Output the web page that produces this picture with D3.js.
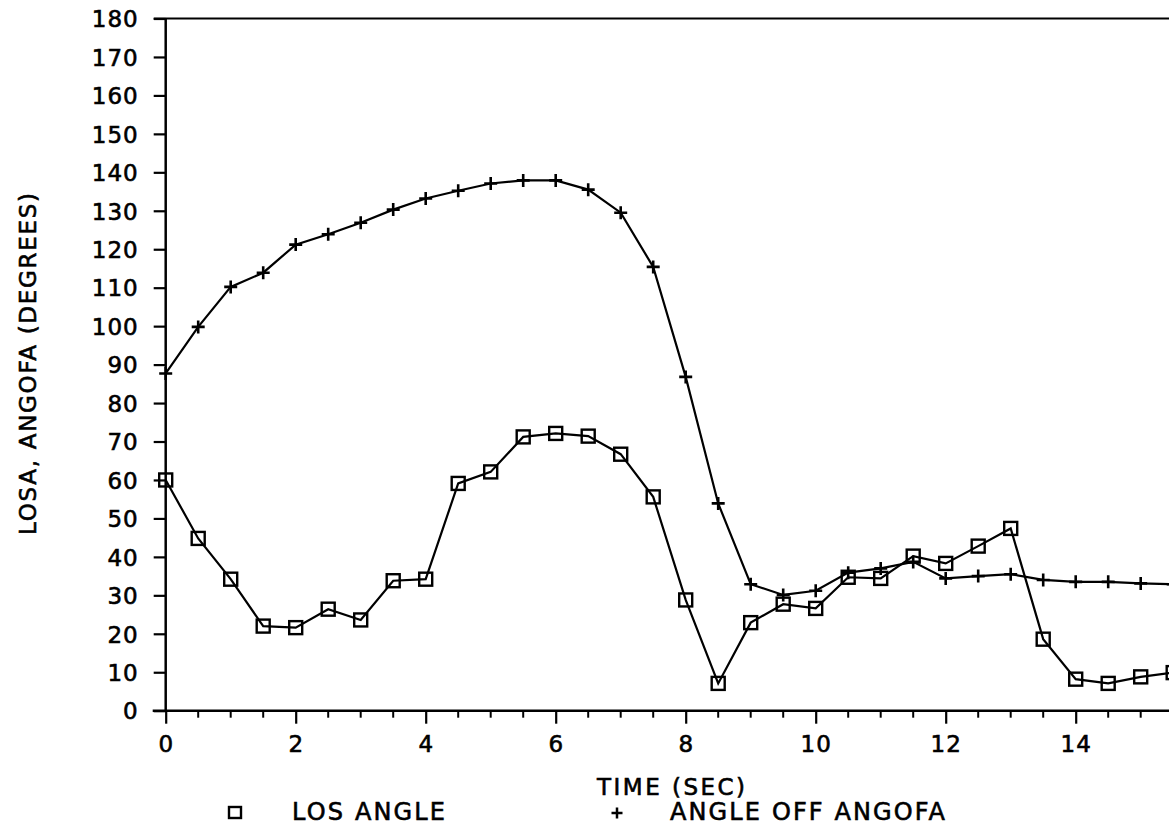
<!DOCTYPE html>
<html>
<head>
<meta charset="utf-8">
<script src="https://cdn.jsdelivr.net/npm/d3@7/dist/d3.min.js"></script>
<style>
  html, body { margin: 0; padding: 0; background: #fff; }
  svg { display: block; }
  text { font-family: "DejaVu Sans", sans-serif; fill: #000; stroke: #000; stroke-width: 0.6px; }
</style>
</head>
<body>
<svg id="chart" width="1169" height="830"></svg>
<script>
// ---- data ----
const time = [0, 0.5, 1, 1.5, 2, 2.5, 3, 3.5, 4, 4.5, 5, 5.5, 6, 6.5, 7, 7.5, 8, 8.5, 9, 9.5,
              10, 10.5, 11, 11.5, 12, 12.5, 13, 13.5, 14, 14.5, 15, 15.5];
const losAngle = [60.0, 44.8, 34.2, 22.0, 21.6, 26.4, 23.6, 33.8, 34.2, 59.1, 62.1, 71.2, 72.1, 71.4,
                  66.7, 55.6, 28.8, 7.1, 22.9, 27.7, 26.6, 34.7, 34.4, 40.2, 38.3, 42.8, 47.4, 18.6,
                  8.2, 7.1, 8.8, 9.9];
const angleOff = [87.7, 99.8, 110.2, 113.9, 121.2, 123.9, 126.9, 130.3, 133.2, 135.2, 137.1, 137.9,
                  137.9, 135.5, 129.5, 115.4, 86.8, 53.9, 32.9, 30.1, 31.2, 35.9, 37.0, 38.7, 34.4,
                  35.0, 35.5, 34.0, 33.5, 33.5, 33.1, 32.9];
const xTickValues = [0, 2, 4, 6, 8, 10, 12, 14];
const xMinorTicks = [0.5, 1, 1.5, 2.5, 3, 3.5, 4.5, 5, 5.5, 6.5, 7, 7.5, 8.5, 9, 9.5, 10.5, 11, 11.5,
                     12.5, 13, 13.5, 14.5, 15, 15.5];
const yTickValues = [0, 10, 20, 30, 40, 50, 60, 70, 80, 90, 100, 110, 120, 130, 140, 150, 160, 170, 180];
const yTitle = "LOSA, ANGOFA (DEGREES)";
const xTitle = "TIME (SEC)";
const legendNames = ["LOS ANGLE", "ANGLE OFF ANGOFA"];

// ---- layout ----
const W = 1169, H = 830;
const x0 = 165.7, unit = 65;
const yTop = 18.5, yBot = 710.7;
const svg = d3.select("#chart");

const x = d3.scaleLinear().domain([0, 16]).range([x0, x0 + 16 * unit]);
const y = d3.scaleLinear().domain([0, 180]).range([yBot, yTop]);

const axisStroke = 2.5;

// Y axis
const yAxis = svg.append("g").attr("transform", `translate(${x0},0)`)
  .call(d3.axisLeft(y).tickValues(yTickValues).tickSize(12).tickPadding(16).tickFormat(d3.format("d")));
yAxis.select(".domain").attr("stroke", "#000").attr("stroke-width", axisStroke).attr("d", `M0,${yTop}V${yBot}`);
yAxis.selectAll(".tick line").attr("stroke", "#000").attr("stroke-width", 2.2);
yAxis.selectAll(".tick text").attr("font-size", 23).attr("letter-spacing", "1px")
  .attr("font-family", "DejaVu Sans").attr("dy", "0.36em").attr("x", -27);

// top frame line at 180
svg.append("line").attr("x1", x0 - 12).attr("x2", W).attr("y1", y(180)).attr("y2", y(180))
  .attr("stroke", "#000").attr("stroke-width", 2.2);

// X axis
const xAxis = svg.append("g").attr("transform", `translate(0,${yBot})`)
  .call(d3.axisBottom(x).tickValues(xTickValues).tickSize(13).tickPadding(16).tickFormat(d3.format("d")));
xAxis.select(".domain").attr("stroke", "#000").attr("stroke-width", axisStroke).attr("d", `M${x0 - 13},0H${W}`);
xAxis.selectAll(".tick line").attr("stroke", "#000").attr("stroke-width", 2.2);
xAxis.selectAll(".tick text").attr("font-size", 23).attr("letter-spacing", "1px")
  .attr("font-family", "DejaVu Sans").attr("y", 25);

// minor x ticks
svg.append("g").selectAll("line").data(xMinorTicks).join("line")
  .attr("x1", d => x(d)).attr("x2", d => x(d))
  .attr("y1", yBot).attr("y2", yBot + 7)
  .attr("stroke", "#000").attr("stroke-width", 2);

// titles
svg.append("text").attr("transform", `translate(36,364) rotate(-90)`)
  .attr("text-anchor", "middle").attr("font-size", 23)
  .attr("textLength", 342).attr("lengthAdjust", "spacing").text(yTitle);
svg.append("text").attr("x", 597).attr("y", 795).attr("font-size", 23)
  .attr("textLength", 148).attr("lengthAdjust", "spacing").text(xTitle);

// series
const lineGen = d3.line().x((d, i) => x(time[i])).y(d => y(d)).curve(d3.curveLinear);

const gLos = svg.append("g");
gLos.append("path").datum(losAngle).attr("d", lineGen)
  .attr("fill", "none").attr("stroke", "#000").attr("stroke-width", 2.2);
gLos.selectAll("rect").data(losAngle).join("rect")
  .attr("x", (d, i) => x(time[i]) - 6.5).attr("y", d => y(d) - 6.5)
  .attr("width", 13).attr("height", 13)
  .attr("fill", "none").attr("stroke", "#000").attr("stroke-width", 2.4);

const gOff = svg.append("g");
gOff.append("path").datum(angleOff).attr("d", lineGen)
  .attr("fill", "none").attr("stroke", "#000").attr("stroke-width", 2.2);
const plusPath = (cx, cy, r) => `M${cx - r},${cy}H${cx + r}M${cx},${cy - r}V${cy + r}`;
gOff.selectAll("path.mk").data(angleOff).join("path").attr("class", "mk")
  .attr("d", (d, i) => plusPath(x(time[i]), y(d), 6.5))
  .attr("fill", "none").attr("stroke", "#000").attr("stroke-width", 2.6);

// legend
const lg = svg.append("g");
lg.append("rect").attr("x", 229).attr("y", 807).attr("width", 12).attr("height", 11)
  .attr("fill", "none").attr("stroke", "#000").attr("stroke-width", 2.4);
lg.append("text").attr("x", 292).attr("y", 820).attr("font-size", 24)
  .attr("textLength", 153).attr("lengthAdjust", "spacing").text(legendNames[0]);
lg.append("path").attr("d", plusPath(617, 813, 5.5))
  .attr("stroke", "#000").attr("stroke-width", 2.5).attr("fill", "none");
lg.append("text").attr("x", 670).attr("y", 820).attr("font-size", 24)
  .attr("textLength", 275).attr("lengthAdjust", "spacing").text(legendNames[1]);
</script>
</body>
</html>
